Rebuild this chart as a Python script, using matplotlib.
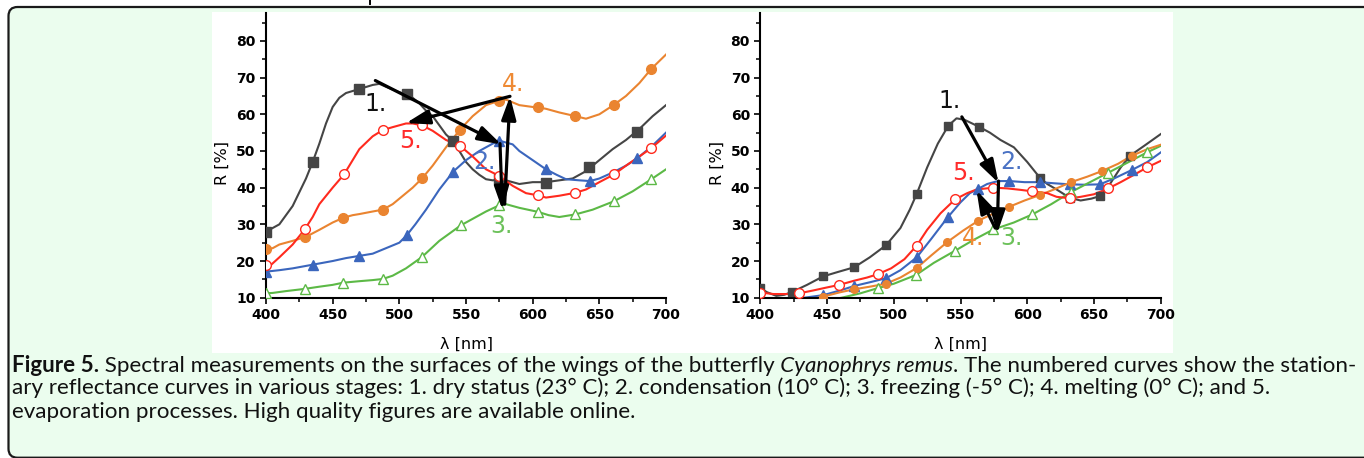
import matplotlib
matplotlib.use("Agg")
import matplotlib.pyplot as plt
from matplotlib.patches import FancyBboxPatch, Rectangle
from matplotlib.lines import Line2D
from matplotlib.transforms import IdentityTransform

# ---------------- LEFT PANEL DATA ----------------
L1_lam = [400,405,410,420,430,435,440,445,450,455,460,470,480,485,490,500,505,510,515,520,525,530,535,540,545,550,555,560,565,570,575,580,590,600,610,620,630,640,650,660,670,680,690,700]
L1_R   = [28,29,30,35,42.5,47,52,57.5,62,64.5,65.8,66.9,68,68.3,67.5,66,65.5,64.5,63,61,59.5,57,54.5,52.8,50,47,45,43.5,42.3,42,42.2,42,41,41.5,41.5,42,42.5,44.5,47.5,50.5,53,56,59.5,62.5]
L1_mlam = [400,435,470,505.5,540,575,610,642.5,678.5]
L1_mR   = [28,47,66.9,65.6,52.8,42.3,41.3,45.5,55.3]

L2_lam = [400,410,420,435,450,460,470,480,490,500,505.5,512,520,530,540.5,550,560,570,575,580,585,590,600,610,618,625,635,643,650,660.5,670,678.5,690,700]
L2_R   = [17.1,17.5,18,19,20,20.8,21.4,22,23.5,25,27,30,34,39.5,44.4,47.5,50,52,52.8,52.3,51.8,50,47.5,45,43.5,42.3,42,41.8,42.5,44.2,46,48,51.5,55]
L2_mlam = [400,435,470,505.5,540.5,575,610,643,678.5]
L2_mR   = [17.1,19,21.4,27,44.4,52.8,45,41.8,48]

L3_lam = [400,405,415,429,440,450,458,470,480,487.5,495,505,517,530,546,555,565,575,580,590,604,612,620,632,645,661,675,689,700]
L3_R   = [11.2,11.3,11.8,12.4,13,13.5,14.1,14.5,14.8,15.1,16,18,21.1,25.5,29.7,31.5,33.5,35.2,35.5,34.5,33.4,32.5,32,32.7,34,36.3,39,42.3,45]
L3_mlam = [400,429,458,487.5,517,546,575,604,632,661,689]
L3_mR   = [11.2,12.4,14.1,15.1,21.1,29.7,35.2,33.4,32.7,36.3,42.3]

L4_lam = [400,405,410,420,430,440,450,458,465,470,480,487.5,495,500,510,517,525,535,545.5,555,565,575,580,590,600,604,610,620,632,640,650,661,670,680,689,700]
L4_R   = [23.3,23.5,24.5,25.5,26.6,28.5,30.5,31.8,32.5,32.8,33.5,34,35.5,37,40,42.5,46,51,55.8,59.5,62.5,63.7,64,62.5,62,61.9,61.5,60.5,59.5,58.8,60,62.6,65,68.5,72.4,76.3]
L4_mlam = [400,429,458,487.5,517,545.5,575,604,632,661,689]
L4_mR   = [23.3,26.6,31.8,34,42.5,55.8,63.7,61.9,59.5,62.6,72.4]

L5_lam = [400,403,410,420,429,435,440,450,458.5,465,470,480,487.5,495,505,510,517,525,535,545.5,555,565,575,585,595,604,610,620,632,640,650,661,670,680,689,700]
L5_R   = [19,18.7,21,24.5,28.6,32,35.5,40,43.6,47.5,50.5,54,55.7,56.5,57.5,57.5,57,55.5,53,51.4,48.5,45,43.2,40.5,38.5,37.9,37.3,37.8,38.6,39.5,41.5,43.6,46,48.5,50.8,54.2]
L5_mlam = [400,429,458.5,487.5,517,545.5,575,604,632,661,689]
L5_mR   = [19,28.6,43.6,55.7,57,51.4,43.2,37.9,38.6,43.6,50.8]

# ---------------- RIGHT PANEL DATA ----------------
R1_lam = [400,405,412,418,424,435,447,458,470.4,482,494.2,505,512,517.2,525,533,540.9,547,553,563.9,572,580,590,600,609.5,615,622,632,640,648,654.5,662,670,677,688,700]
R1_R   = [12.6,11.5,10.5,10.8,11.6,13.5,15.8,17,18.3,21,24.3,29,34,38.3,45.5,52,56.9,58.9,58.5,56.6,55,53,51,47,42.7,41,39.5,37.2,36.5,37,37.7,41,45.5,48.7,51.5,54.6]
R1_mlam = [400,424,447,470.4,494.2,517.2,540.9,563.9,609.5,632,654.5,677]
R1_mR   = [12.6,11.6,15.8,18.3,24.3,38.3,56.9,56.6,42.7,37.2,37.7,48.7]

R2_lam = [400,425,447.2,460,470.4,482,494.2,505,517.2,528,540.4,550,557,563.4,570,578,586.6,598,609.5,620,632,643,654.5,665,678.3,690,700]
R2_R   = [8.5,9.6,10.7,12,13.2,14.2,15.3,17.5,21,26,31.9,36,38.5,39.7,41,41.8,41.8,41.5,41.5,41.2,40.9,40.8,40.9,42.5,44.8,47,49.6]
R2_mlam = [447.2,470.4,494.2,517.2,540.4,563.4,586.6,609.5,632,654.5,678.3]
R2_mR   = [10.7,13.2,15.3,21,31.9,39.7,41.8,41.5,40.9,40.9,44.8]

R3_lam = [400,440,461,475,488,500,516.7,530,545.9,560,574.6,590,603.8,618,632.8,647,660.8,675,689.7,700]
R3_R   = [6,8.5,10,11.2,12.6,13.8,16.2,19.5,22.8,25.8,28.6,30.5,32.7,35.5,38.8,41.5,44.1,46.8,49.6,51.4]
R3_mlam = [488,516.7,545.9,574.6,603.8,632.8,660.8,689.7]
R3_mR   = [12.6,16.2,22.8,28.6,32.7,38.8,44.1,49.6]

R4_lam = [400,430,447,460,470.4,482,494,505,517.2,528,540.2,552,563.4,575,586.6,598,609.5,620,632.8,645,655.8,668,678.3,690,700]
R4_R   = [7.5,9,10.3,11.5,12.3,13,13.8,15.5,18.1,21.5,25.2,28.3,31,33,34.8,36.5,38,39.5,41.5,43,44.5,46.5,48.7,50.5,51.7]
R4_mlam = [447,470.4,494,517.2,540.2,563.4,586.6,609.5,632.8,655.8,678.3]
R4_mR   = [10.3,12.3,13.8,18.1,25.2,31,34.8,38,41.5,44.5,48.7]

R5_lam = [400,410,420,429.2,440,450,459.2,470,480,488,498,508,517.2,525,535,545.9,555,562,574.6,585,595,603.8,615,622,632,640,650,660.8,670,680,689.7,700]
R5_R   = [11.4,11,11,11.2,12,12.8,13.5,14.6,15.5,16.4,18,20.5,24.2,28.5,33,36.8,38.5,39.5,40,39.8,39.4,39,38.5,37.5,37.1,37.5,38.2,39.8,41.5,43.5,45.5,47.3]
R5_mlam = [400,429.2,459.2,488,517.2,545.9,574.6,603.8,632,660.8,689.7]
R5_mR   = [11.4,11.2,13.5,16.4,24.2,36.8,40,39,37.1,39.8,45.5]

# curve labels: (text, lambda, R)
L_labels = [("1.", 482, 62.8), ("2.", 564, 47.1), ("3.", 576.8, 29.5), ("4.", 585.5, 68.3), ("5.", 508, 52.8)]
R_labels = [("1.", 542.1, 63.7), ("2.", 588.3, 46.9), ("3.", 588.3, 26.3), ("4.", 559.6, 26.3), ("5.", 552.1, 44.1)]
# arrows: (start_lambda, start_R, end_lambda, end_R)
L_arrows = [(482, 69.2, 576.5, 51.8), (575.5, 52, 577.3, 34), (579, 35.5, 583, 64.9), (583, 64.9, 505, 57.6)]
R_arrows = [(551, 59.3, 578.5, 41.3), (578.5, 41.8, 577.5, 27.5), (576, 29, 562, 39.3)]

X_TICKS = [400, 450, 500, 550, 600, 650, 700]
Y_TICKS = [10, 20, 30, 40, 50, 60, 70, 80]
X_LABEL = "\u03bb [nm]"
Y_LABEL = "R [%]"

CAPTION = [
    [("Figure 5.", "bold", "normal"),
     (" Spectral measurements on the surfaces of the wings of the butterfly", "normal", "normal"),
     (" Cyanophrys remus", "normal", "italic"),
     (". The numbered curves show the station-", "normal", "normal")],
    [("ary reflectance curves in various stages: 1. dry status (23\u00b0 C); 2. condensation (10\u00b0 C); 3. freezing (-5\u00b0 C); 4. melting (0\u00b0 C); and 5.", "normal", "normal")],
    [("evaporation processes. High quality figures are available online.", "normal", "normal")],
]

# ---------------- STYLE ----------------
C_GRAY = '#454545'
C_BLUE = '#3b66bd'
C_GREEN = '#5cb946'
C_ORANGE = '#ea8430'
C_RED = '#ff2a1e'
LBL_COL = {"1.": '#111111', "2.": '#4a72c4', "3.": '#6cc15a', "4.": '#ee8a34', "5.": '#ff2b2b'}

W, H, DPI = 1364, 458, 100
fig = plt.figure(figsize=(W / DPI, H / DPI), dpi=DPI)
fig.patch.set_facecolor('white')
ident = IdentityTransform()

frame = FancyBboxPatch((8.5, 0.3), 1400, 450.7, boxstyle='round,pad=0,rounding_size=9',
                       transform=ident, facecolor='#ebfdee', edgecolor='#1a1a1a',
                       linewidth=1.6, zorder=-3)
fig.add_artist(frame)
fig.add_artist(Rectangle((212, H - 353), 961, 341, transform=ident, facecolor='white',
                         edgecolor='none', zorder=-2))
fig.add_artist(Line2D([370, 370], [H - 4, H], transform=ident, color='k', lw=1.4))


def make_panel(x0, x1, series, labels, arrows):
    ax = fig.add_axes([x0 / W, (H - 297.7) / H, (x1 - x0) / W, 285 / H])
    ax.set_facecolor('none')
    for lam, R, mlam, mR, col, mk, filled, ms in series:
        ax.plot(lam, R, color=col, lw=1.5, zorder=2, solid_joinstyle='round')
        ax.plot(mlam, mR, ls='none', marker=mk, ms=ms, mfc=col if filled else 'white',
                mec=col, mew=1.0, zorder=3)
    for s, lx, ly in labels:
        ax.text(lx, ly, s, color=LBL_COL[s], fontsize=17, ha='center', va='center',
                family='DejaVu Sans', zorder=5)
    for sx, sy, ex, ey in arrows:
        ax.annotate('', xy=(ex, ey), xytext=(sx, sy),
                    arrowprops=dict(arrowstyle='-|>,head_length=0.7,head_width=0.22',
                                    mutation_scale=20, lw=2.3, color='black',
                                    shrinkA=0, shrinkB=0), zorder=6)
    ax.set_xlim(400, 700)
    ax.set_ylim(10, 87.7)
    ax.set_xticks(X_TICKS)
    ax.set_xticklabels([str(t) for t in X_TICKS], fontweight='bold', family='DejaVu Sans', fontsize=10)
    ax.set_yticks(Y_TICKS)
    ax.set_yticklabels([str(t) for t in Y_TICKS], fontweight='bold', family='DejaVu Sans', fontsize=10)
    ax.set_xticks([t + 25 for t in X_TICKS[:-1]], minor=True)
    ax.set_yticks([t + 5 for t in Y_TICKS], minor=True)
    ax.tick_params(which='major', direction='out', length=4.5, width=1.2, pad=3)
    ax.tick_params(which='minor', direction='out', length=2.6, width=1.1)
    for sp in ('top', 'right'):
        ax.spines[sp].set_visible(False)
    for sp in ('left', 'bottom'):
        ax.spines[sp].set_linewidth(1.5)
    ax.set_xlabel(X_LABEL, fontsize=11.5, family='DejaVu Sans')
    ax.set_ylabel(Y_LABEL, fontsize=11.5, family='DejaVu Sans')
    ax.xaxis.set_label_coords(0.5, (297.7 - 336.5) / 285)
    ax.yaxis.set_label_coords((230 - x0) / (x1 - x0), 0.474)
    return ax


left_series = [
    (L1_lam, L1_R, L1_mlam, L1_mR, C_GRAY, 's', True, 6.5),
    (L2_lam, L2_R, L2_mlam, L2_mR, C_BLUE, '^', True, 7.5),
    (L3_lam, L3_R, L3_mlam, L3_mR, C_GREEN, '^', False, 7.5),
    (L4_lam, L4_R, L4_mlam, L4_mR, C_ORANGE, 'o', True, 7),
    (L5_lam, L5_R, L5_mlam, L5_mR, C_RED, 'o', False, 7),
]
right_series = [
    (R1_lam, R1_R, R1_mlam, R1_mR, C_GRAY, 's', True, 6),
    (R2_lam, R2_R, R2_mlam, R2_mR, C_BLUE, '^', True, 7),
    (R3_lam, R3_R, R3_mlam, R3_mR, C_GREEN, '^', False, 7),
    (R4_lam, R4_R, R4_mlam, R4_mR, C_ORANGE, 'o', True, 5.5),
    (R5_lam, R5_R, R5_mlam, R5_mR, C_RED, 'o', False, 7),
]
axL = make_panel(266, 666, left_series, L_labels, L_arrows)
axR = make_panel(760.3, 1160.7, right_series, R_labels, R_arrows)
axR.yaxis.set_label_coords((725 - 760.3) / 400.4, 0.474)

# ---------------- CAPTION ----------------
renderer = fig.canvas.get_renderer()
CAP_FONT = 'Lato'


def draw_line(pieces, x0, yb, size):
    arts = []
    x = x0
    for txt, w, st in pieces:
        t = fig.text(x, yb, txt, transform=ident, fontsize=size, fontweight=w,
                     fontstyle=st, family=CAP_FONT, ha='left', va='baseline', color='#111111')
        bb = t.get_window_extent(renderer=renderer)
        x = bb.x1
        arts.append(t)
    return arts, x


trial = 12.0
arts, xe = draw_line(CAPTION[0], 12, H - 372, trial)
for a in arts:
    a.remove()
size = trial * (1349 - 12) / (xe - 12)
for line, yb in zip(CAPTION, [371.5, 394.5, 417.5]):
    draw_line(line, 12, H - yb, size)

fig.savefig('out.png', dpi=DPI, facecolor='white')
